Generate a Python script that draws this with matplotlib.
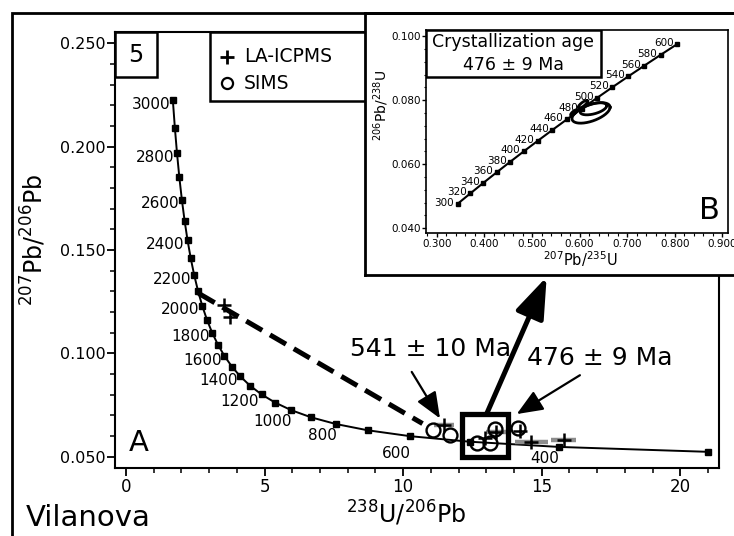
import numpy as np
import matplotlib
matplotlib.use("Agg")
import matplotlib.pyplot as plt
from matplotlib.patches import Rectangle, ArrowStyle
from matplotlib.ticker import MultipleLocator, FormatStrFormatter

plt.rcParams['font.family'] = ['DejaVu Sans']
plt.rcParams['mathtext.fontset'] = 'dejavusans'

# Tera-Wasserburg concordia, one marker every 100 Ma (300 ... 3000 Ma)
tw_ages = [300, 400, 500, 600, 700, 800, 900, 1000, 1100, 1200, 1300, 1400,
           1500, 1600, 1700, 1800, 1900, 2000, 2100, 2200, 2300, 2400, 2500,
           2600, 2700, 2800, 2900, 3000]
tw_x = [20.992, 15.621, 12.399, 10.252, 8.718, 7.568, 6.674, 5.959, 5.375,
        4.888, 4.476, 4.123, 3.817, 3.550, 3.314, 3.105, 2.917, 2.749, 2.597,
        2.459, 2.333, 2.217, 2.111, 2.013, 1.922, 1.838, 1.760, 1.687]
tw_y = [0.05233, 0.05470, 0.05722, 0.05990, 0.06276, 0.06580, 0.06904,
        0.07250, 0.07619, 0.08012, 0.08432, 0.08881, 0.09360, 0.09872,
        0.10419, 0.11004, 0.11629, 0.12299, 0.13015, 0.13782, 0.14603,
        0.15483, 0.16426, 0.17437, 0.18520, 0.19682, 0.20928, 0.22266]

# discordia (dashed)
disc_x = [2.62, 10.70]
disc_y = [0.1290, 0.0660]

# LA-ICPMS analyses (cross) with gray 238U/206Pb error bars
la_x = [3.52, 3.74, 11.48, 12.95, 13.35, 14.20, 14.62, 15.80]
la_y = [0.1233, 0.1177, 0.0652, 0.0590, 0.0618, 0.0622, 0.0570, 0.0580]
la_xerr = [0.0, 0.0, 0.35, 0.0, 0.35, 0.0, 0.60, 0.45]

# SIMS analyses (circle)
sims_x = [11.09, 11.70, 12.66, 13.14, 13.32, 14.16]
sims_y = [0.0628, 0.0604, 0.0564, 0.0564, 0.0632, 0.0637]

# Wetherill concordia for the inset, marker every 20 Ma
we_ages = [300, 320, 340, 360, 380, 400, 420, 440, 460, 480, 500, 520, 540,
           560, 580, 600]
we_x = [0.3437, 0.3705, 0.3977, 0.4255, 0.4539, 0.4828, 0.5123, 0.5424,
        0.5731, 0.6044, 0.6363, 0.6688, 0.7020, 0.7359, 0.7704, 0.8056]
we_y = [0.04764, 0.05089, 0.05416, 0.05743, 0.06072, 0.06402, 0.06732,
        0.07064, 0.07397, 0.07730, 0.08065, 0.08401, 0.08738, 0.09075,
        0.09414, 0.09754]

# error ellipses in the inset
ell_cx = [0.624, 0.629, 0.607, 0.588]
ell_cy = [0.0760, 0.0773, 0.0787, 0.0761]
ell_sx = [0.040, 0.028, 0.010, 0.007]
ell_sy = [0.0032, 0.0019, 0.0012, 0.0009]
ell_rho = [0.55, 0.50, 0.80, 0.80]

W, H = 734, 536


def fx(px):
    return px / W


def fy(py):
    return 1 - py / H


fig = plt.figure(figsize=(W / 100, H / 100), dpi=100)

# outer frame (runs off the right and bottom edges)
fig.add_artist(Rectangle((fx(12), -0.2), 1.2, fy(13) + 0.2, transform=fig.transFigure,
                         fill=False, lw=2, ec='black'))

# ---------------- main Tera-Wasserburg plot ----------------
ax = fig.add_axes([fx(115), fy(468), (719 - 115) / W, (468 - 32) / H])
ax.set_xlim(-0.4, 21.4)
ax.set_ylim(0.0445, 0.2555)
ax.xaxis.set_major_locator(MultipleLocator(5))
ax.xaxis.set_minor_locator(MultipleLocator(1))
ax.yaxis.set_major_locator(MultipleLocator(0.05))
ax.yaxis.set_minor_locator(MultipleLocator(0.01))
ax.yaxis.set_major_formatter(FormatStrFormatter('%.3f'))
ax.tick_params(axis='y', which='major', length=6, width=1.3, labelsize=11.5, pad=1)
ax.tick_params(axis='y', which='minor', length=3.5, width=1.1)
ax.tick_params(axis='x', which='major', length=5.5, width=1.3, labelsize=12, pad=2)
ax.tick_params(axis='x', which='minor', length=3.5, width=1.1)
for s in ax.spines.values():
    s.set_linewidth(1.5)

ax.plot(tw_x, tw_y, '-', color='black', lw=1.4, marker='s', ms=5, zorder=3)
for age, x, y in zip(tw_ages, tw_x, tw_y):
    if age % 200:
        continue
    if age >= 1400:
        off = (-2, -3)
    elif age == 1200:
        off = (-2, -5)
    elif age == 600:
        off = (0.5, -12.5)
    else:
        off = (0.5, -8.5)
    ax.annotate(str(age), (x, y), xytext=off, textcoords='offset points',
                ha='right', va='center', fontsize=11)

ax.plot(disc_x, disc_y, color='black', lw=3.6, dashes=(3.7, 1.8), zorder=2)

for x, y, e in zip(la_x, la_y, la_xerr):
    if e > 0:
        ax.plot([x - e, x + e], [y, y], color='#8c8c8c', lw=3.2, solid_capstyle='butt', zorder=3)
ax.plot(la_x, la_y, '+', color='black', ms=10.5, mew=1.8, zorder=5)
ax.plot(sims_x, sims_y, 'o', mfc='none', mec='black', ms=10, mew=1.7, zorder=5)

# box around the 476 Ma cluster and arrow to the inset
ax.add_patch(Rectangle((12.12, 0.0496), 1.68, 0.0210, fill=False, lw=3.8, ec='black', zorder=6))
ax.annotate('', xy=(15.18, 0.1370), xytext=(13.02, 0.0709),
            arrowprops=dict(arrowstyle=ArrowStyle('-|>', head_length=1.25, head_width=0.45),
                            mutation_scale=20, lw=3.6, color='black', shrinkA=0, shrinkB=0))
ax.annotate('', xy=(11.33, 0.0685), xytext=(10.31, 0.0910),
            arrowprops=dict(arrowstyle=ArrowStyle('-|>', head_length=0.8, head_width=0.33),
                            mutation_scale=20, lw=1.6, color='black', shrinkA=0, shrinkB=0))
ax.annotate('', xy=(14.10, 0.0706), xytext=(16.38, 0.0894),
            arrowprops=dict(arrowstyle=ArrowStyle('-|>', head_length=0.8, head_width=0.33),
                            mutation_scale=20, lw=1.6, color='black', shrinkA=0, shrinkB=0))
ax.text(0.389, 0.273, '541 ± 10 Ma', transform=ax.transAxes, fontsize=18,
        ha='left', va='center')
ax.text(0.682, 0.252, '476 ± 9 Ma', transform=ax.transAxes, fontsize=18,
        ha='left', va='center')

# panel number box
ax.add_patch(Rectangle((0, 0.897), 0.0695, 0.103, transform=ax.transAxes,
                       fill=False, lw=1.8, ec='black'))
ax.text(0.0348, 0.947, '5', transform=ax.transAxes, fontsize=17, ha='center', va='center')

# hand-drawn legend
ax.add_patch(Rectangle((0.157, 0.842), 0.30, 0.158, transform=ax.transAxes,
                       fill=False, lw=1.8, ec='black'))
ax.plot([0.185], [0.943], '+', transform=ax.transAxes, color='black', ms=10, mew=2)
ax.plot([0.185], [0.883], 'o', transform=ax.transAxes, mfc='none', mec='black', ms=8, mew=1.6)
ax.text(0.213, 0.943, 'LA-ICPMS', transform=ax.transAxes, fontsize=13.5, va='center')
ax.text(0.213, 0.883, 'SIMS', transform=ax.transAxes, fontsize=13.5, va='center')

ax.text(0.0397, 0.0573, 'A', transform=ax.transAxes, fontsize=21, ha='center', va='center')

fig.text(fx(406), fy(513), r'$^{238}$U/$^{206}$Pb', fontsize=17, ha='center', va='center')
fig.text(fx(34), fy(240), r'$^{207}$Pb/$^{206}$Pb', fontsize=17, ha='center', va='center',
         rotation=90)
fig.text(fx(26), fy(518), 'Vilanova', fontsize=21, ha='left', va='center')

# ---------------- inset (Wetherill concordia) ----------------
box = fig.add_axes([fx(365), fy(275), 0.6, (275 - 13) / H])
box.set_xticks([])
box.set_yticks([])
for s in box.spines.values():
    s.set_linewidth(2)

ins = fig.add_axes([fx(426), fy(233.3), (728 - 426) / W, (233.3 - 30) / H])
ins.set_xlim(0.277, 0.912)
ins.set_ylim(0.0384, 0.1019)
ins.xaxis.set_major_locator(MultipleLocator(0.1))
ins.xaxis.set_minor_locator(MultipleLocator(0.02))
ins.yaxis.set_major_locator(MultipleLocator(0.02))
ins.yaxis.set_minor_locator(MultipleLocator(0.004))
ins.xaxis.set_major_formatter(FormatStrFormatter('%.3f'))
ins.yaxis.set_major_formatter(FormatStrFormatter('%.3f'))
ins.tick_params(which='major', length=3, width=1, labelsize=7.5, pad=1)
ins.tick_params(which='minor', length=1.8, width=0.8)
for s in ins.spines.values():
    s.set_linewidth(1.2)

ins.plot(we_x, we_y, '-', color='black', lw=1.5, marker='s', ms=3.2)
for age, x, y in zip(we_ages, we_x, we_y):
    ins.annotate(str(age), (x, y), xytext=(-2.5, 0.8), textcoords='offset points',
                 ha='right', va='center', fontsize=7.5)

t = np.linspace(0, 2 * np.pi, 200)
for cx, cy, sx, sy, r in zip(ell_cx, ell_cy, ell_sx, ell_sy, ell_rho):
    ex = cx + sx * np.cos(t)
    ey = cy + sy * (r * np.cos(t) + np.sqrt(1 - r * r) * np.sin(t))
    ins.plot(ex, ey, color='black', lw=2)

ins.add_patch(Rectangle((0, 0.767), 0.578, 0.233, transform=ins.transAxes,
                        fill=False, lw=1.8, ec='black', zorder=5))
ins.text(0.289, 0.942, 'Crystallization age', transform=ins.transAxes, fontsize=12.5,
         ha='center', va='center')
ins.text(0.289, 0.828, '476 ± 9 Ma', transform=ins.transAxes, fontsize=12.5,
         ha='center', va='center')
ins.text(0.937, 0.110, 'B', transform=ins.transAxes, fontsize=22, ha='center', va='center')

fig.text(fx(580), fy(259), r'$^{207}$Pb/$^{235}$U', fontsize=10.5, ha='center', va='center')
fig.text(fx(381), fy(106), r'$^{206}$Pb/$^{238}$U', fontsize=10, ha='center', va='center',
         rotation=90)

fig.savefig('out.png', dpi=100)
